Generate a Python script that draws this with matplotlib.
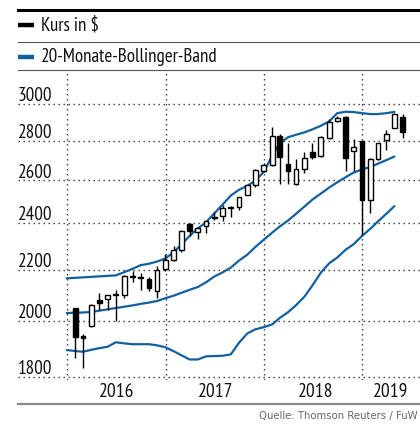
import numpy as np
import pandas as pd
import matplotlib
matplotlib.use("Agg")
import matplotlib.pyplot as plt
import matplotlib.dates as mdates
from matplotlib import ticker
from matplotlib.lines import Line2D
from matplotlib.patches import Rectangle

plt.rcParams['font.family'] = ['PT Sans Narrow', 'Asap Condensed', 'Archivo Narrow', 'DejaVu Sans']

# Monatskerzen Jan 2016 - Mai 2019 (Monatsende)
kurs_monate = pd.date_range("2016-01-01", periods=41, freq="MS") + pd.offsets.MonthEnd(0)
kurs_open = [2048, 1945, 1979, 2080, 2083, 2100, 2098, 2176, 2171, 2164, 2113, 2204,
             2242, 2283, 2396, 2361, 2388, 2428, 2431, 2476, 2476, 2532, 2576, 2646,
             2675, 2826, 2680, 2583, 2658, 2740, 2721, 2815, 2906, 2930, 2745, 2797,
             2509, 2709, 2803, 2870, 2930]
kurs_high = [2048, 1950, 2063, 2105, 2099, 2120, 2177, 2194, 2188, 2170, 2214, 2266,
             2298, 2370, 2400, 2385, 2412, 2452, 2484, 2478, 2522, 2580, 2655, 2688,
             2874, 2836, 2790, 2708, 2740, 2790, 2825, 2916, 2932, 2935, 2810, 2800,
             2712, 2790, 2858, 2950, 2947]
kurs_low = [1864, 1831, 1977, 2040, 2042, 2000, 2085, 2150, 2120, 2115, 2087, 2195,
            2238, 2275, 2344, 2330, 2358, 2415, 2412, 2428, 2461, 2528, 2567, 2640,
            2672, 2585, 2584, 2580, 2638, 2706, 2718, 2810, 2898, 2645, 2646, 2347,
            2448, 2704, 2750, 2868, 2813]
kurs_close = [1941, 1937, 2061, 2068, 2097, 2104, 2174, 2171, 2168, 2126, 2197, 2240,
              2283, 2365, 2365, 2380, 2409, 2422, 2468, 2470, 2521, 2576, 2651, 2674,
              2825, 2715, 2646, 2654, 2711, 2717, 2822, 2902, 2922, 2712, 2766, 2505,
              2709, 2787, 2834, 2947, 2846]

# 20-Monate-Bollinger-Band, Dez 2015 - Apr 2019
band_monate = pd.date_range("2015-12-01", periods=41, freq="MS") + pd.offsets.MonthEnd(0)
band_oben = [2165, 2167, 2169, 2171, 2173, 2175, 2177, 2190, 2204, 2219, 2225, 2234,
             2247, 2274, 2306, 2344, 2376, 2405, 2444, 2485, 2528, 2555, 2574, 2599,
             2642, 2721, 2787, 2819, 2832, 2845, 2861, 2880, 2904, 2949, 2957, 2955,
             2949, 2944, 2944, 2949, 2956]
band_mitte = [2029, 2030, 2031, 2033, 2038, 2043, 2048, 2053, 2058, 2064, 2069, 2075,
              2086, 2096, 2107, 2119, 2130, 2149, 2172, 2189, 2209, 2238, 2263, 2296,
              2327, 2358, 2385, 2412, 2443, 2476, 2509, 2537, 2566, 2591, 2616, 2639,
              2654, 2667, 2683, 2701, 2719]
band_unten = [1893, 1890, 1887, 1894, 1900, 1905, 1921, 1917, 1914, 1914, 1914, 1910,
              1903, 1889, 1875, 1860, 1860, 1871, 1872, 1873, 1878, 1919, 1953, 1968,
              1976, 1986, 2010, 2032, 2059, 2092, 2137, 2188, 2227, 2251, 2284, 2308,
              2344, 2376, 2408, 2443, 2478]

y_ticks = [1800, 2000, 2200, 2400, 2600, 2800, 3000]
jahre = ["2016", "2017", "2018", "2019"]
jahr_pos = ["2016-07-04", "2017-07-07", "2018-07-10", "2019-04-15"]
jahr_grenzen = ["2016-01-01", "2017-01-01", "2018-01-01", "2019-01-01"]

BLAU = "#11609f"
W, H = 420, 424

fig = plt.figure(figsize=(W / 100, H / 100), dpi=100)
ax = fig.add_axes([18 / W, 1 - 380 / H, 402 / W, 310 / H])


def fy(px):
    return 1 - px / H


# Kopf: Linien und Legende
fig.add_artist(Line2D([18 / W, 1], [fy(10), fy(10)], color="black", lw=2.2))
fig.add_artist(Line2D([18 / W, 1], [fy(42), fy(42)], color="#555555", lw=0.8))
fig.add_artist(Line2D([18 / W, 1], [fy(70), fy(70)], color="#555555", lw=0.8))
fig.add_artist(Line2D([18 / W, 34 / W], [fy(25), fy(25)], color="black", lw=3.2,
                      solid_capstyle="butt"))
fig.add_artist(Line2D([18 / W, 34 / W], [fy(57), fy(57)], color=BLAU, lw=3.2,
                      solid_capstyle="butt"))
fig.text(41 / W, fy(25), "Kurs in $", fontsize=13.7, va="center", ha="left", color="#111111")
fig.text(41 / W, fy(57), "20-Monate-Bollinger-Band", fontsize=13.7, va="center", ha="left",
         color="#111111")

# Fuss
fig.add_artist(Line2D([18 / W, 1], [fy(404), fy(404)], color="#8a8a8a", lw=1.6))
fig.text(418 / W, fy(416), "Quelle: Thomson Reuters / FuW", fontsize=7.3, ha="right",
         va="center", color="#666666", family=["DejaVu Sans"])

ax.set_yscale("log")
ax.set_ylim(1790, 3197)
ax.set_xlim(mdates.datestr2num("2015-07-03"), mdates.datestr2num("2019-08-03"))
ax.yaxis.set_minor_locator(ticker.NullLocator())
ax.set_yticks([])
ax.set_xticks([])
for s in ax.spines.values():
    s.set_visible(False)

x_left = ax.get_xlim()[0]
for v in y_ticks:
    ax.axhline(v, color="#333333", lw=1.0, ls=(0, (1, 2.6)), zorder=1)
    ax.annotate(str(v), xy=(x_left, v), xytext=(0, 2), textcoords="offset points",
                ha="left", va="baseline", fontsize=13.8, color="#111111")

for g in jahr_grenzen:
    ax.axvline(mdates.datestr2num(g), color="#333333", lw=1.0, ls=(0, (1, 2.6)), zorder=1)

for j, p in zip(jahre, jahr_pos):
    ax.text(mdates.datestr2num(p), -0.039, j, transform=ax.get_xaxis_transform(),
            ha="center", va="center", fontsize=14, color="#111111", clip_on=False)

# Bollinger-Band
bx = mdates.date2num(band_monate)
for band in (band_oben, band_mitte, band_unten):
    ax.plot(bx, band, color=BLAU, lw=1.6, zorder=2, solid_capstyle="round")

# Kerzen
kx = mdates.date2num(kurs_monate)
breite = 18
for x, o, h, l, c in zip(kx, kurs_open, kurs_high, kurs_low, kurs_close):
    ax.vlines(x, l, h, color="black", lw=1.0, zorder=3)
    unten = min(o, c)
    hoehe = max(abs(c - o), 2)
    farbe = "white" if c >= o else "black"
    ax.add_patch(Rectangle((x - breite / 2, unten), breite, hoehe, facecolor=farbe,
                           edgecolor="black", lw=1.0, zorder=4))

fig.savefig("out.png", dpi=100)
